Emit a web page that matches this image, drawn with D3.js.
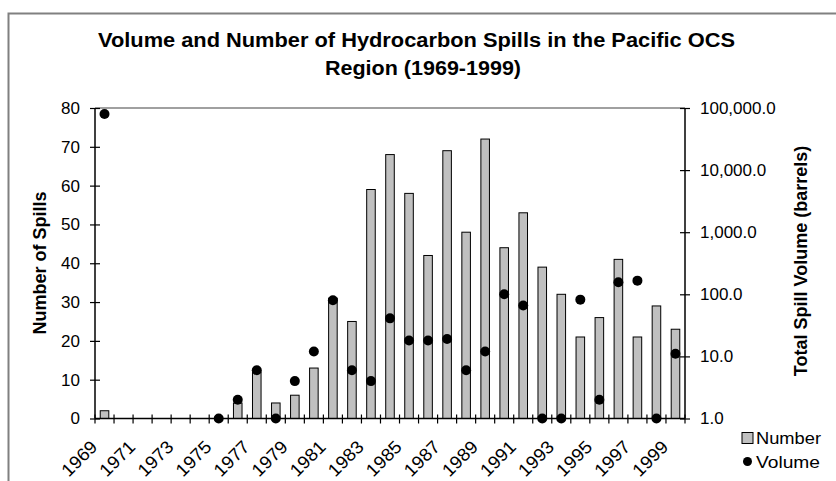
<!DOCTYPE html>
<html>
<head>
<meta charset="utf-8">
<script src="https://cdn.jsdelivr.net/npm/d3@7"></script>
<style>
  body { margin: 0; background: #fff; }
  svg { display: block; font-family: Arial, "Liberation Sans", sans-serif; }
</style>
</head>
<body>
<div id="chart"></div>
<script>
// years 1969..1999
const years = d3.range(1969, 2000)
const spillCount = [2, 0, 0, 0, 0, 0, 0, 4, 12, 4, 6, 13, 31, 25, 59, 68, 58, 42, 69, 48, 72, 44, 53, 39, 32, 21, 26, 41, 21, 29, 23]
// barrels, null = no spill volume shown
const spillVolume = [80000, null, null, null, null, null, 1, 2, 6, 1, 4, 12, 80, 6, 4, 41, 18, 18, 19, 6, 12, 100, 66, 1, 1, 82, 2, 156, 166, 1, 11]
const countTicks = [0, 10, 20, 30, 40, 50, 60, 70, 80]
const volumeTicks = [1, 10, 100, 1000, 10000, 100000]

const width = 836
const height = 481
const plotLeft = 95, plotRight = 685, plotTop = 108, plotBottom = 418.5

const svg = d3.select('#chart').append('svg')
  .attr('width', width)
  .attr('height', height)

svg.append('rect')
  .attr('width', width).attr('height', height)
  .attr('fill', '#fff')

// outer chart frame, runs past the right/bottom edge
svg.append('rect')
  .attr('x', 8.5).attr('y', 13.5)
  .attr('width', 900).attr('height', 600)
  .attr('fill', 'none')
  .attr('stroke', '#808080')
  .attr('stroke-width', 2)

const x = d3.scaleBand().domain(years).range([plotLeft, plotRight]).padding(0)
const y = d3.scaleLinear().domain([0, 80]).range([plotBottom, plotTop])
const yv = d3.scaleLog().domain([1, 100000]).range([plotBottom, plotTop])

// top border of plot area
svg.append('line')
  .attr('x1', plotLeft).attr('x2', plotRight)
  .attr('y1', plotTop).attr('y2', plotTop)
  .attr('stroke', '#808080')
  .attr('stroke-width', 1.5)

// bars
const barW = x.bandwidth() * 0.45
svg.selectAll('rect.bar')
  .data(years.map((yr, i) => ({ yr, v: spillCount[i] })).filter(d => d.v > 0))
  .enter()
  .append('rect')
  .attr('class', 'bar')
  .attr('x', d => x(d.yr) + (x.bandwidth() - barW) / 2)
  .attr('y', d => y(d.v))
  .attr('width', barW)
  .attr('height', d => y(0) - y(d.v))
  .attr('fill', '#c0c0c0')
  .attr('stroke', '#000')
  .attr('stroke-width', 1)

// left axis
const axL = svg.append('g')
  .attr('transform', `translate(${plotLeft},0)`)
  .call(d3.axisLeft(y).tickValues(countTicks).tickSize(5).tickPadding(10))
axL.select('.domain').attr('stroke', '#000').attr('stroke-width', 1.5).attr('d', `M0,${plotTop}V${plotBottom}`)
axL.selectAll('.tick line').attr('x1', -5).attr('x2', 5).attr('stroke-width', 1.2)
axL.selectAll('.tick text').attr('font-size', 17).attr('fill', '#000').attr('font-family', 'Arial, "Liberation Sans", sans-serif')

// right axis
const axR = svg.append('g')
  .attr('transform', `translate(${plotRight},0)`)
  .call(d3.axisRight(yv).tickValues(volumeTicks).tickFormat(d3.format(',.1f')).tickSize(5).tickPadding(10))
axR.select('.domain').attr('stroke', '#000').attr('stroke-width', 1.5).attr('d', `M0,${plotTop}V${plotBottom}`)
axR.selectAll('.tick line').attr('x1', -5).attr('x2', 5).attr('stroke-width', 1.2)
axR.selectAll('.tick text').attr('font-size', 17).attr('fill', '#000').attr('font-family', 'Arial, "Liberation Sans", sans-serif')

// x axis: ticks between categories
const axX = svg.append('g')
svg.append('line')
  .attr('x1', plotLeft).attr('x2', plotRight)
  .attr('y1', plotBottom).attr('y2', plotBottom)
  .attr('stroke', '#000').attr('stroke-width', 1.5)
axX.selectAll('line.xt')
  .data(years.concat([2000]))
  .enter()
  .append('line')
  .attr('x1', (d, i) => plotLeft + i * x.step())
  .attr('x2', (d, i) => plotLeft + i * x.step())
  .attr('y1', plotBottom - 4).attr('y2', plotBottom + 5)
  .attr('stroke', '#000').attr('stroke-width', 1.2)
axX.selectAll('text')
  .data(years.filter((d, i) => i % 2 === 0))
  .enter()
  .append('text')
  .attr('transform', d => `translate(${x(d) + x.bandwidth() / 2 - 10.5},${plotBottom + 25}) rotate(-45)`)
  .attr('text-anchor', 'end')
  .attr('dy', '0.35em')
  .attr('font-size', 18)
  .attr('textLength', 42).attr('lengthAdjust', 'spacingAndGlyphs')
  .text(d => d)

// volume dots
svg.selectAll('circle.vol')
  .data(years.map((yr, i) => ({ yr, v: spillVolume[i] })).filter(d => d.v != null))
  .enter()
  .append('circle')
  .attr('class', 'vol')
  .attr('cx', d => x(d.yr) + x.bandwidth() / 2)
  .attr('cy', d => yv(d.v))
  .attr('r', 5)
  .attr('fill', '#000')

// title
const title = svg.append('text')
  .attr('text-anchor', 'middle')
  .attr('font-size', 20)
  .attr('font-weight', 'bold')
title.append('tspan').attr('x', 416.5).attr('y', 47)
  .attr('textLength', 637).attr('lengthAdjust', 'spacingAndGlyphs')
  .text('Volume and Number of Hydrocarbon Spills in the Pacific OCS')
title.append('tspan').attr('x', 423).attr('y', 75)
  .attr('textLength', 196).attr('lengthAdjust', 'spacingAndGlyphs')
  .text('Region (1969-1999)')

// axis titles
svg.append('text')
  .attr('transform', 'translate(46,263) rotate(-90)')
  .attr('text-anchor', 'middle')
  .attr('font-size', 18)
  .attr('font-weight', 'bold')
  .text('Number of Spills')
svg.append('text')
  .attr('transform', 'translate(807,261) rotate(-90)')
  .attr('text-anchor', 'middle')
  .attr('font-size', 18)
  .attr('font-weight', 'bold')
  .text('Total Spill Volume (barrels)')

// legend
const legend = svg.append('g')
legend.append('rect')
  .attr('x', 742).attr('y', 432.5)
  .attr('width', 11).attr('height', 11)
  .attr('fill', '#c0c0c0').attr('stroke', '#000').attr('stroke-width', 1)
legend.append('text').attr('x', 756).attr('y', 444).attr('font-size', 17)
  .attr('textLength', 65).attr('lengthAdjust', 'spacingAndGlyphs').text('Number')
legend.append('circle').attr('cx', 747.5).attr('cy', 461.5).attr('r', 4.5).attr('fill', '#000')
legend.append('text').attr('x', 756).attr('y', 468).attr('font-size', 17)
  .attr('textLength', 64).attr('lengthAdjust', 'spacingAndGlyphs').text('Volume')
</script>
</body>
</html>
